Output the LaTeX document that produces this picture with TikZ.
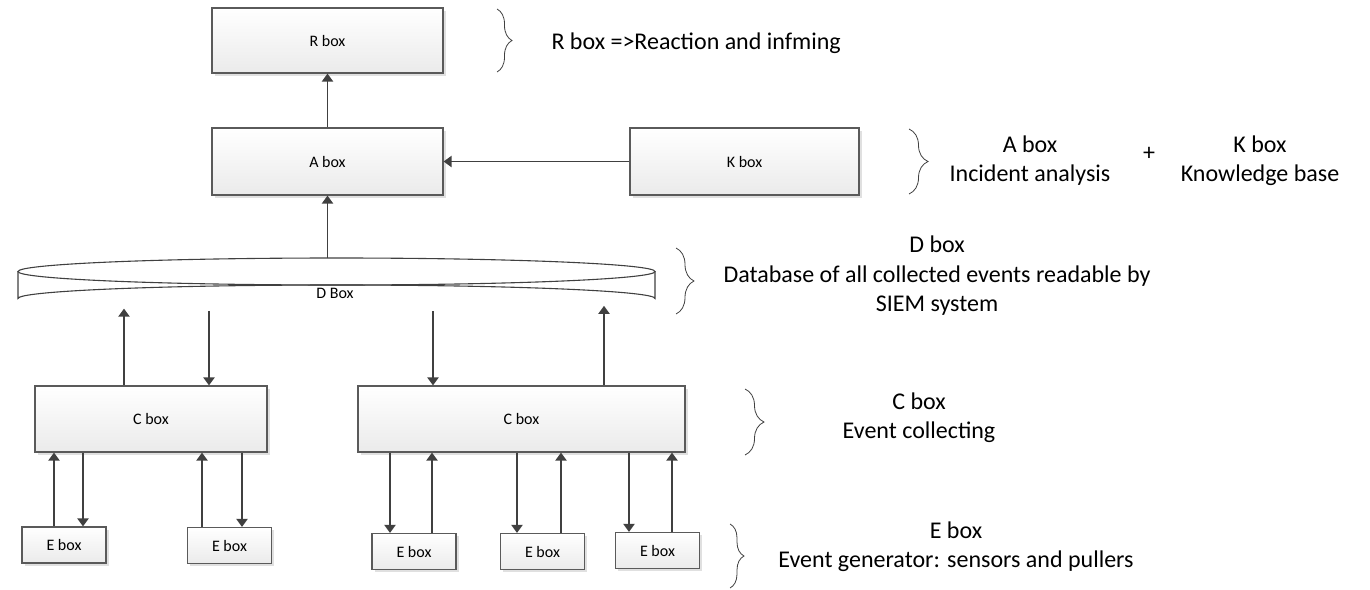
\documentclass[tikz,border=0pt]{standalone}
\usepackage{fontspec}
\setmainfont{Carlito}
\usetikzlibrary{arrows.meta,shadows,decorations.pathreplacing}
\definecolor{inkc}{HTML}{404040}
\definecolor{edgec}{HTML}{5A5A5A}
\begin{document}
\begin{tikzpicture}[x=1pt,y=-1pt,
  box/.style={draw=edgec, line width=1.1pt, top color=white, bottom color=black!8,
    drop shadow={shadow xshift=2.5pt, shadow yshift=-2.5pt, fill=black, opacity=0.12},
    inner sep=0pt, font=\fontsize{16}{19}\selectfont},
  ebox/.style={box, minimum width=84pt, minimum height=36pt},
  arr/.style={draw=inkc, line width=1.9pt, -{Triangle[length=8pt,width=11pt]}},
  brc/.style={draw=inkc, line width=0.8pt, decorate, decoration={brace, amplitude=#1}},
  big/.style={font=\fontsize{24}{29.5}\selectfont, align=center, inner sep=0pt},
  small/.style={font=\fontsize{16}{19}\selectfont, inner sep=0pt}]
\useasboundingbox (0,0) rectangle (1370,589);

% main boxes
\node[box, minimum width=231pt, minimum height=65pt] (R) at (327.5,40.5) {R box};
\node[box, minimum width=231pt, minimum height=67pt] (A) at (327.5,161.5) {A box};
\node[box, minimum width=229pt, minimum height=67pt] (K) at (744.5,161.5) {K box};
\node[box, minimum width=232pt, minimum height=66pt] (C1) at (151,419) {C box};
\node[box, minimum width=327pt, minimum height=66pt] (C2) at (521.5,419) {C box};

% event generators
\node[ebox] (E1) at (64,545) {E box};
\node[ebox] (E2) at (229.5,545.5) {E box};
\node[ebox] (E3) at (414,551.5) {E box};
\node[ebox] (E4) at (542.5,551.5) {E box};
\node[ebox] (E5) at (657.5,550.5) {E box};

% database cylinder
\fill[white] (18,271.5) -- (18,298.5) arc[start angle=180, end angle=360, x radius=318.5, y radius=13.5]
  -- (655,271.5) arc[start angle=0, end angle=180, x radius=318.5, y radius=13.5] -- cycle;
\draw[inkc, line width=1.1pt] (18,271.5) -- (18,298.5) arc[start angle=180, end angle=360, x radius=318.5, y radius=13.5]
  -- (655,271.5);
\draw[inkc, line width=1.1pt] (336.5,271.5) ellipse[x radius=318.5, y radius=13.5];
\node[small] (D) at (335,293) {D Box};
\coordinate (Dtop) at (327.5,258);
\coordinate (Da) at (124,308.6);
\coordinate (Db) at (209,310.9);
\coordinate (Dc) at (433,311.4);
\coordinate (Dd) at (604,305.8);

% upper connectors
\draw[arr] (A.north) -- (R.south);
\draw[arr] (K.west) -- (A.east);
\draw[arr] (Dtop) -- (A.south);

% database <-> collectors
\draw[arr] (C1.north -| Da) -- (Da);
\draw[arr] (Db) -- (C1.north -| Db);
\draw[arr] (Dc) -- (C2.north -| Dc);
\draw[arr] (C2.north -| Dd) -- (Dd);

% collectors <-> generators
\draw[arr] ([xshift=-10pt]E1.north) -- ([xshift=-10pt]E1.north |- C1.south);
\draw[arr] ([xshift=19pt]E1.north |- C1.south) -- ([xshift=19pt]E1.north);
\draw[arr] ([xshift=-27.5pt]E2.north) -- ([xshift=-27.5pt]E2.north |- C1.south);
\draw[arr] ([xshift=12.5pt]E2.north |- C1.south) -- ([xshift=12.5pt]E2.north);
\draw[arr] ([xshift=-24pt]E3.north |- C2.south) -- ([xshift=-24pt]E3.north);
\draw[arr] ([xshift=18pt]E3.north) -- ([xshift=18pt]E3.north |- C2.south);
\draw[arr] ([xshift=-25.5pt]E4.north |- C2.south) -- ([xshift=-25.5pt]E4.north);
\draw[arr] ([xshift=18.5pt]E4.north) -- ([xshift=18.5pt]E4.north |- C2.south);
\draw[arr] ([xshift=-28.5pt]E5.north |- C2.south) -- ([xshift=-28.5pt]E5.north);
\draw[arr] ([xshift=14.5pt]E5.north) -- ([xshift=14.5pt]E5.north |- C2.south);

% legend braces
\draw[brc=15pt] (497,9) -- (497,72);
\draw[brc=19pt] (909,129) -- (909,194);
\draw[brc=18pt] (676,248) -- (676,314);
\draw[brc=19pt] (745,389) -- (745,455);
\draw[brc=14pt] (730,524) -- (730,588);

% legend texts
\node[big, anchor=east] (tR) at (841,43) {R box =>Reaction and infming};
\node[big] (tA) at (1030,160.5) {A box\\Incident analysis};
\node[big] (tplus) at (1149,154) {+};
\node[big] (tK) at (1260,160.5) {K box\\Knowledge base};
\node[big] (tD) at (937,276) {D box\\Database of all collected events readable by\\SIEM system};
\node[big] (tC) at (919,417.5) {C box\\Event collecting};
\node[big] (tE) at (956,546.5) {E box\\Event generator: sensors and pullers};
\end{tikzpicture}
\end{document}
